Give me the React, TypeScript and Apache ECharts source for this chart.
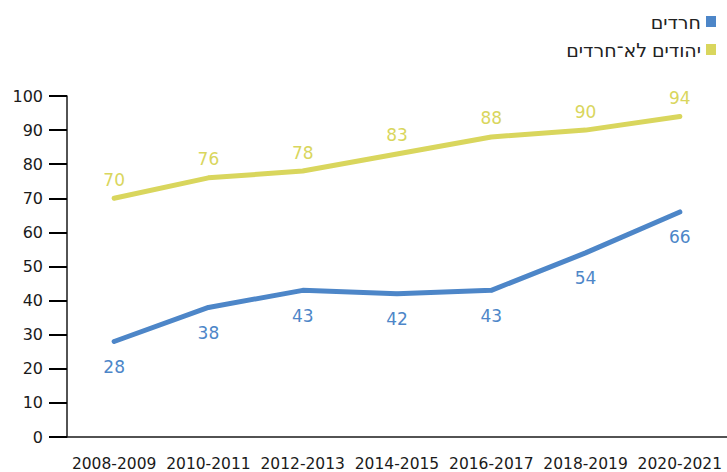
import React, { useEffect, useRef } from "react";
import * as echarts from "echarts";

const categories = ["2008-2009", "2010-2011", "2012-2013", "2014-2015", "2016-2017", "2018-2019", "2020-2021"];
const haredi = [28, 38, 43, 42, 43, 54, 66];
const nonHaredi = [70, 76, 78, 83, 88, 90, 94];
const seriesNames = ["חרדים", "יהודים לא־חרדים"];

const BLUE = "#4d86c8";
const YELLOW = "#d9d65d";
const FONT = "'DejaVu Sans', 'Noto Sans', sans-serif";
const LEGEND_FONT = "'Noto Sans', 'DejaVu Sans', sans-serif";

export default function App() {
  const ref = useRef<HTMLDivElement>(null);
  useEffect(() => {
    if (!ref.current) return;
    const chart = echarts.init(ref.current, null, { renderer: "svg" });
    chart.setOption({
      animation: false,
      legend: {
        orient: "vertical",
        right: 6,
        top: 7,
        align: "right",
        itemWidth: 10,
        itemHeight: 11,
        itemGap: 9,
        icon: "rect",
        textStyle: { fontSize: 19, color: "#222", fontFamily: LEGEND_FONT },
        data: seriesNames,
      },
      grid: { left: 67, right: -7, top: 96, bottom: 34 },
      xAxis: {
        type: "category",
        data: categories,
        boundaryGap: true,
        axisLine: { lineStyle: { color: "#1a1a1a", width: 1.5 } },
        axisTick: { inside: true, length: 20, interval: 0, lineStyle: { color: "#1a1a1a", width: 1.2 } },
        axisLabel: { color: "#1a1a1a", fontSize: 15.5, margin: 19, fontFamily: FONT, interval: 0 },
      },
      yAxis: {
        type: "value",
        min: 0,
        max: 100,
        interval: 10,
        splitLine: { show: false },
        axisLine: { show: true, lineStyle: { color: "#1a1a1a", width: 1.5 } },
        axisTick: { show: true, inside: false, length: 18, lineStyle: { color: "#000", width: 2 } },
        axisLabel: { color: "#1a1a1a", fontSize: 16, margin: 24, fontFamily: FONT },
      },
      series: [
        {
          name: seriesNames[0],
          type: "line",
          data: haredi,
          symbol: "circle",
          symbolSize: 4,
          showSymbol: true,
          lineStyle: { color: BLUE, width: 5, cap: "round" },
          itemStyle: { color: BLUE },
          label: { show: true, position: "bottom", distance: 15, color: BLUE, fontSize: 17, fontFamily: FONT },
        },
        {
          name: seriesNames[1],
          type: "line",
          data: nonHaredi,
          symbol: "circle",
          symbolSize: 4,
          showSymbol: true,
          lineStyle: { color: YELLOW, width: 5, cap: "round" },
          itemStyle: { color: YELLOW },
          label: { show: true, position: "top", distance: 8, color: YELLOW, fontSize: 17, fontFamily: FONT },
        },
      ],
    });
    return () => chart.dispose();
  }, []);
  return <div ref={ref} style={{ width: 727, height: 472, position: "absolute", left: 0, top: 0 }} />;
}
